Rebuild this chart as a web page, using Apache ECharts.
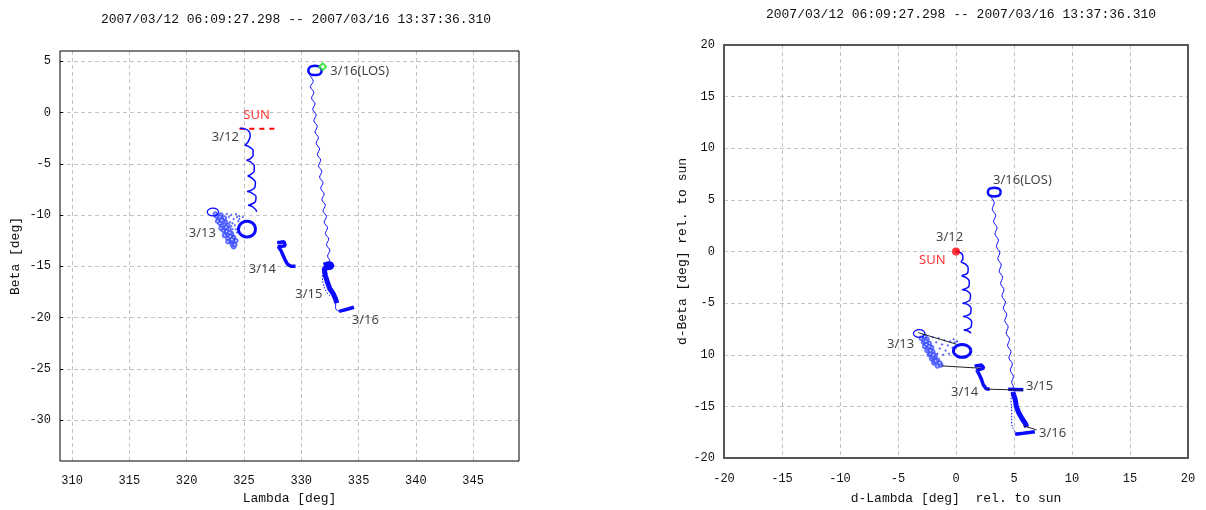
<!DOCTYPE html>
<html><head><meta charset="utf-8">
<script src="https://cdn.jsdelivr.net/npm/echarts@6/dist/echarts.min.js"></script>
<style>html,body{margin:0;padding:0;background:#fff}#c{width:1206px;height:510px}</style>
</head><body><div id="c"></div>
<script>
// ---------------- data: left chart (absolute Lambda / Beta) ----------------
const TITLE = '2007/03/12 06:09:27.298 -- 2007/03/16 13:37:36.310';
const L_SUN = [[324.6,-1.58],[328.0,-1.58]];
const L_TRACK_0312 = [[324.66,-1.54],[325.1,-1.6],[325.45,-1.85],[325.55,-2.3],[325.35,-2.9],[325.1,-3.2],[325.4,-3.3],[325.8,-3.7],[325.8,-4.2],[325.5,-4.55],[325.25,-4.65],[325.55,-4.8],[325.9,-5.2],[325.9,-5.7],[325.6,-6.05],[325.35,-6.2],[325.65,-6.35],[326.0,-6.8],[325.95,-7.3],[325.6,-7.6],[325.3,-7.7],[325.6,-7.8],[326.05,-8.2],[326.0,-8.7],[325.65,-8.95],[325.4,-9.05],[325.7,-9.15],[326.05,-9.5],[326.1,-9.7]];
const L_RING_0313 = [[322.8,-9.7],[322.65,-9.43],[322.3,-9.32],[321.95,-9.43],[321.8,-9.7],[321.95,-9.97],[322.3,-10.08],[322.65,-9.97],[322.8,-9.7]];
const L_BLOB_0313 = [[322.6,-10.1],[322.8,-10.4],[322.9,-10.8],[323.1,-11.1],[323.2,-11.5],[323.4,-11.9],[323.6,-12.3],[323.8,-12.6],[324.0,-12.9],[324.1,-13.1],[323.0,-10.0],[323.3,-10.3],[323.4,-10.7],[323.6,-11.0],[323.7,-11.4],[323.9,-11.8],[324.1,-12.2],[324.3,-12.5],[324.2,-12.9],[322.7,-10.6],[323.0,-11.3],[323.3,-12.0],[323.6,-12.6],[322.5,-9.9],[322.9,-10.2],[323.2,-10.6],[323.35,-11.3],[323.5,-11.6],[323.8,-12.1],[324.0,-12.5],[323.05,-10.5],[323.45,-11.2],[323.75,-11.7],[323.95,-12.4]];
const L_CLOUD_0313 = [[323.5,-9.9],[323.9,-10.0],[324.3,-9.9],[324.6,-10.1],[324.1,-10.4],[324.5,-10.6],[323.8,-10.7],[324.2,-11.0],[324.6,-11.2],[324.0,-11.4],[324.4,-11.7],[324.1,-12.0],[324.6,-10.4],[324.9,-10.2],[324.3,-11.4],[323.7,-10.2],[324.0,-10.8],[324.4,-10.2],[323.9,-11.1],[324.2,-12.3]];
const L_BIG_RING = [[326.0,-11.38],[325.92,-11.0],[325.65,-10.72],[325.27,-10.62],[324.89,-10.72],[324.62,-11.0],[324.52,-11.38],[324.62,-11.76],[324.89,-12.04],[325.27,-12.14],[325.65,-12.04],[325.92,-11.76],[326.0,-11.38]];
const L_TRACK_0314 = [[327.9,-12.7],[328.5,-12.6],[328.6,-13.0],[328.0,-13.1],[328.2,-13.4],[328.4,-13.9],[328.6,-14.4],[328.8,-14.8],[329.1,-15.0],[329.5,-15.0]];
const L_LONG = [[330.75,3.6],[331.05,3.05],[330.8,2.5],[331.1,1.95],[330.9,1.4],[331.2,0.85],[331.0,0.3],[331.3,-0.25],[331.1,-0.8],[331.4,-1.35],[331.2,-1.9],[331.5,-2.45],[331.3,-3.0],[331.6,-3.55],[331.4,-4.1],[331.7,-4.65],[331.5,-5.2],[331.8,-5.75],[331.6,-6.3],[331.9,-6.85],[331.7,-7.4],[332.0,-7.95],[331.8,-8.5],[332.1,-9.05],[331.9,-9.6],[332.2,-10.15],[332.0,-10.7],[332.3,-11.25],[332.1,-11.8],[332.4,-12.35],[332.2,-12.9],[332.5,-13.45],[332.3,-14.0],[332.5,-14.5],[332.35,-14.9]];
const L_CLUSTER_0315 = [[331.95,-14.9],[332.4,-14.75],[332.7,-14.85],[332.6,-15.1],[332.0,-15.2],[332.1,-15.9],[332.3,-16.6],[332.5,-17.2],[332.8,-17.7],[333.0,-18.2],[333.1,-18.6]];
const L_LOOP_0315 = [[331.9,-15.3],[331.85,-16.0],[331.95,-16.8],[332.2,-17.5],[332.5,-17.9]];
const L_TAIL_0316 = [[333.0,-18.6],[333.0,-19.1],[333.3,-19.4]];
const L_END_0316 = [[333.3,-19.4],[334.0,-19.2],[334.6,-19.0]];
const L_LOS_RING = [[331.78,4.1],[331.7,4.37],[331.49,4.52],[331.2,4.55],[330.91,4.52],[330.7,4.37],[330.62,4.1],[330.7,3.83],[330.91,3.68],[331.2,3.65],[331.49,3.68],[331.7,3.83],[331.78,4.1]];
const L_LOS_MARK = [[331.87,4.47]];
const L_LABELS = [['3/12',322.2,-2.46],['3/13',320.18,-11.74],['3/14',325.42,-15.25],['3/15',329.48,-17.7],['3/16',334.41,-20.3],['3/16(LOS)',332.54,4.06]];
const L_SUN_LABEL = [['SUN',324.95,-0.27]];

// ---------------- data: right chart (relative to sun) ----------------
const R_SUN = [[0,0]];
const R_TRACK_0312 = [[0,0],[0.35,-0.1],[0.55,-0.3],[0.6,-0.7],[0.45,-1.0],[0.8,-1.2],[1.05,-1.6],[1.0,-2.1],[0.6,-2.3],[0.5,-2.35],[0.85,-2.5],[1.15,-2.9],[1.1,-3.4],[0.7,-3.65],[0.55,-3.7],[0.9,-3.8],[1.25,-4.2],[1.2,-4.7],[0.8,-4.95],[0.6,-5.0],[0.95,-5.1],[1.3,-5.5],[1.25,-6.0],[0.85,-6.25],[0.65,-6.3],[1.0,-6.4],[1.35,-6.8],[1.3,-7.3],[0.95,-7.55],[0.7,-7.6],[1.05,-7.7],[1.3,-7.9]];
const R_RING_0313 = [[-2.67,-7.94],[-2.82,-7.67],[-3.17,-7.56],[-3.52,-7.67],[-3.67,-7.94],[-3.52,-8.21],[-3.17,-8.32],[-2.82,-8.21],[-2.67,-7.94]];
const R_BLOB_0313 = [[-3.0,-8.4],[-2.8,-8.8],[-2.7,-9.2],[-2.5,-9.6],[-2.3,-10.0],[-2.1,-10.4],[-1.9,-10.8],[-1.6,-11.1],[-1.3,-11.0],[-2.5,-8.5],[-2.3,-8.9],[-2.1,-9.3],[-2.0,-9.7],[-1.8,-10.1],[-1.6,-10.5],[-1.4,-10.8],[-2.7,-8.2],[-2.2,-9.9],[-1.9,-10.6],[-2.75,-8.6],[-2.55,-9.0],[-2.4,-9.4],[-2.2,-9.6],[-2.0,-10.2],[-1.75,-10.6],[-2.6,-8.7],[-2.3,-9.2],[-1.95,-10.0]];
const R_CLOUD_0313 = [[-2.0,-8.3],[-1.5,-8.4],[-1.0,-8.6],[-0.5,-8.7],[-0.1,-8.8],[-1.7,-8.8],[-1.2,-9.0],[-0.7,-9.1],[-0.3,-9.3],[-1.4,-9.4],[-0.9,-9.6],[-1.1,-10.0],[-0.6,-9.9],[-1.6,-9.9],[-0.2,-8.5],[0.1,-8.7]];
const R_BIG_RING = [[1.28,-9.63],[1.18,-9.32],[0.9,-9.09],[0.53,-9.01],[0.16,-9.09],[-0.12,-9.32],[-0.22,-9.63],[-0.12,-9.94],[0.16,-10.17],[0.53,-10.25],[0.9,-10.17],[1.18,-9.94],[1.28,-9.63]];
const R_TRACK_0314 = [[1.6,-11.1],[2.2,-11.0],[2.4,-11.3],[1.8,-11.5],[2.0,-11.9],[2.2,-12.4],[2.35,-12.9],[2.6,-13.3],[2.9,-13.35]];
const R_LONG = [[3.0,5.3],[3.3,4.7],[3.12,4.1],[3.42,3.5],[3.24,2.9],[3.54,2.3],[3.36,1.7],[3.66,1.1],[3.48,0.5],[3.78,-0.1],[3.6,-0.7],[3.9,-1.3],[3.72,-1.9],[4.02,-2.5],[3.84,-3.1],[4.14,-3.7],[3.96,-4.3],[4.26,-4.9],[4.08,-5.5],[4.38,-6.1],[4.2,-6.7],[4.5,-7.3],[4.32,-7.9],[4.62,-8.5],[4.44,-9.1],[4.74,-9.7],[4.56,-10.3],[4.86,-10.9],[4.68,-11.5],[4.95,-12.1],[4.8,-12.7],[4.95,-13.1],[4.85,-13.4]];
const R_BAR_0315 = [[4.5,-13.35],[5.8,-13.4]];
const R_CLUSTER_0315 = [[4.9,-13.6],[5.1,-14.3],[5.2,-15.0],[5.4,-15.6],[5.7,-16.2],[6.0,-16.7],[6.1,-17.0]];
const R_LOOP_0315 = [[4.8,-13.6],[4.75,-14.5],[4.8,-15.5],[4.8,-16.5],[5.0,-17.3],[5.3,-17.6]];
const R_END_0316 = [[5.1,-17.7],[5.8,-17.6],[6.8,-17.45]];
const R_LOS_RING = [[3.85,5.75],[3.78,6.0],[3.58,6.13],[3.3,6.17],[3.02,6.13],[2.82,6.0],[2.75,5.75],[2.82,5.5],[3.02,5.37],[3.3,5.33],[3.58,5.37],[3.78,5.5],[3.85,5.75]];
const R_GAPS = [[[-3.25,-7.86],[0.06,-8.99]],[[-1.23,-11.08],[2.07,-11.3]],[[2.65,-13.33],[5.8,-13.43]],[[5.8,-16.88],[6.95,-17.27]]];
const R_LABELS = [['3/12',-1.72,1.35],['3/13',-5.95,-8.99],['3/14',-0.43,-13.62],['3/15',6.03,-13.04],['3/16',7.16,-17.58],['3/16(LOS)',3.19,6.86]];
const R_SUN_LABEL = [['SUN',-3.19,-0.87]];
const R_Y_TICK_TEXT = {'-20':'-20','-15':'-15','-10':'10','-5':'-5','0':'0','5':'5','10':'10','15':'15','20':'20'};

// ---------------- chart ----------------
const BLUE = '#0a0aff';
const MONO = 'Liberation Mono';
const chart = echarts.init(document.getElementById('c'), null, {renderer:'canvas'});

function line(data, idx, width, color, extra) {
  return Object.assign({type:'line', xAxisIndex:idx, yAxisIndex:idx, data:data, symbol:'none',
    showSymbol:false, lineStyle:{color:color||BLUE, width:width}, silent:true, z:3}, extra||{});
}
function dots(data, idx, symbol, size, bw) {
  return {type:'scatter', xAxisIndex:idx, yAxisIndex:idx, data:data, symbol:symbol, symbolSize:size,
    itemStyle:{color:'#3a4cff', borderColor:'#2a3cff', borderWidth:bw||0.7}, silent:true, z:2};
}
function labels(arr, idx, color) {
  return {type:'scatter', xAxisIndex:idx, yAxisIndex:idx, symbolSize:0, silent:true, z:10,
    itemStyle:{color:'transparent'},
    data:arr.map(d => ({name:d[0], value:[d[1], d[2]]})),
    label:{show:true, position:'right', distance:0, formatter:'{b}', color:color,
      fontFamily:'Noto Sans', fontSize:13}};
}
const splitLine = {show:true, showMinLine:false, showMaxLine:false, lineStyle:{color:'#c4c4c4', type:[4,3], width:1}};
const tickLabel = {color:'#111', fontFamily:MONO, fontSize:12};

const series = [
  line(L_SUN, 0, 2, '#ff0000', {lineStyle:{color:'#ff0000', width:2, type:[5,5]}}),
  line(L_TRACK_0312, 0, 1.5, BLUE, {smooth:0.3}),
  line(L_RING_0313, 0, 1.2, BLUE, {smooth:true}),
  dots(L_BLOB_0313, 0, 'emptyCircle', 3.5, 0.6),
  dots(L_CLOUD_0313, 0, 'circle', 1.5),
  line(L_BIG_RING, 0, 3, BLUE, {smooth:true}),
  line(L_TRACK_0314, 0, 3.5),
  line(L_LONG, 0, 1, BLUE, {smooth:0.3}),
  line(L_CLUSTER_0315, 0, 5),
  line(L_LOOP_0315, 0, 1, BLUE, {smooth:true, lineStyle:{color:BLUE, width:1, type:[1.5,1.5]}}),
  line(L_TAIL_0316, 0, 1, BLUE, {smooth:true}),
  line(L_END_0316, 0, 3.5),
  line(L_LOS_RING, 0, 2.5, BLUE, {smooth:true}),
  {type:'scatter', xAxisIndex:0, yAxisIndex:0, data:L_LOS_MARK, symbol:'emptyDiamond', symbolSize:7,
    itemStyle:{color:'#22dd22', borderColor:'#22dd22'}, silent:true, z:5},
  labels(L_LABELS, 0, '#111'),
  labels(L_SUN_LABEL, 0, '#ff0000'),

  line(R_TRACK_0312, 1, 1.5, BLUE, {smooth:0.3}),
  line(R_RING_0313, 1, 1.2, BLUE, {smooth:true}),
  dots(R_BLOB_0313, 1, 'emptyCircle', 3.5, 0.6),
  dots(R_CLOUD_0313, 1, 'circle', 1.5),
  line(R_BIG_RING, 1, 3, BLUE, {smooth:true}),
  line(R_TRACK_0314, 1, 3.5),
  line(R_LONG, 1, 1, BLUE, {smooth:0.3}),
  line(R_BAR_0315, 1, 3.5),
  line(R_CLUSTER_0315, 1, 5),
  line(R_LOOP_0315, 1, 1, BLUE, {smooth:true, lineStyle:{color:BLUE, width:1, type:[1.5,1.5]}}),
  line(R_END_0316, 1, 3.5),
  line(R_LOS_RING, 1, 2.5, BLUE, {smooth:true}),
  ...R_GAPS.map(seg => line(seg, 1, 1, '#222', {z:4})),
  {type:'scatter', xAxisIndex:1, yAxisIndex:1, data:R_SUN, symbol:'circle', symbolSize:8,
    itemStyle:{color:'#ff0000'}, silent:true, z:6},
  labels(R_LABELS, 1, '#111'),
  labels(R_SUN_LABEL, 1, '#ff0000')
];

chart.setOption({
  animation:false,
  backgroundColor:'#fff',
  title:[
    {text:TITLE, left:291, top:8, textAlign:'center', textStyle:{fontFamily:MONO, fontSize:13, fontWeight:'normal', color:'#111'}},
    {text:TITLE, left:956, top:3, textAlign:'center', textStyle:{fontFamily:MONO, fontSize:13, fontWeight:'normal', color:'#111'}}
  ],
  grid:[
    {left:60, top:51, width:459, height:410, show:true, borderColor:'#000', borderWidth:1, backgroundColor:'transparent', z:5},
    {left:724, top:45, width:464, height:414, show:true, borderColor:'#555', borderWidth:2, backgroundColor:'transparent', z:5}
  ],
  xAxis:[
    {type:'value', gridIndex:0, min:308.95, max:349, splitNumber:8,
      name:'Lambda [deg]', nameLocation:'middle', nameGap:30,
      nameTextStyle:{fontFamily:MONO, fontSize:13, color:'#111'},
      axisLine:{show:false}, axisTick:{show:false},
      axisLabel:Object.assign({margin:14, showMinLabel:false, showMaxLabel:false}, tickLabel), splitLine:splitLine},
    {type:'value', gridIndex:1, min:-20, max:20, interval:5,
      name:'d-Lambda [deg]  rel. to sun', nameLocation:'middle', nameGap:34,
      nameTextStyle:{fontFamily:MONO, fontSize:13, color:'#111'},
      axisLine:{show:false}, axisTick:{show:false},
      axisLabel:Object.assign({margin:15}, tickLabel), splitLine:splitLine}
  ],
  yAxis:[
    {type:'value', gridIndex:0, min:-34, max:6, splitNumber:8,
      name:'Beta [deg]', nameLocation:'middle', nameGap:38,
      nameTextStyle:{fontFamily:MONO, fontSize:13, color:'#111'},
      axisLine:{show:false}, axisTick:{show:true, inside:true, length:3, lineStyle:{color:'#000'}},
      axisLabel:Object.assign({margin:9, showMinLabel:false, showMaxLabel:false}, tickLabel), splitLine:splitLine},
    {type:'value', gridIndex:1, min:-20, max:20, interval:5,
      name:'d-Beta [deg] rel. to sun', nameLocation:'middle', nameGap:29,
      nameTextStyle:{fontFamily:MONO, fontSize:13, color:'#111'},
      axisLine:{show:false}, axisTick:{show:false},
      axisLabel:Object.assign({margin:9, formatter:v => R_Y_TICK_TEXT[String(v)] ?? String(v)}, tickLabel), splitLine:splitLine}
  ],
  series:series
});
</script></body></html>
